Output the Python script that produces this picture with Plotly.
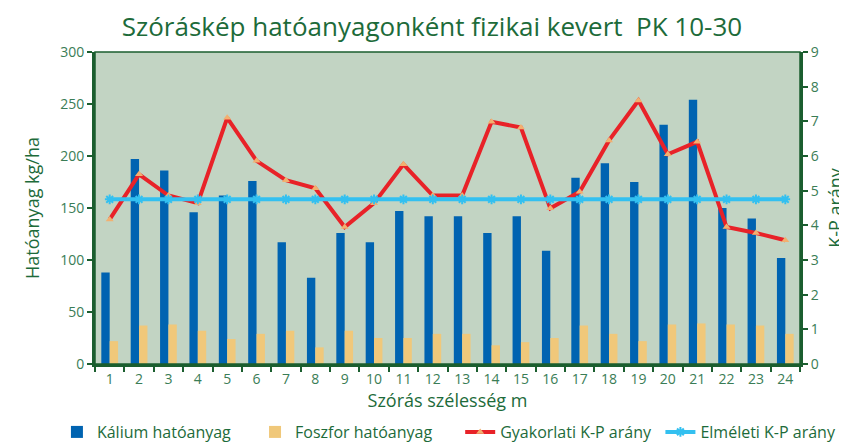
import plotly.graph_objects as go

categories = [str(i) for i in range(1, 25)]
kalium = [88, 197, 186, 146, 162, 176, 117, 83, 126, 117, 147, 142,
          142, 126, 142, 109, 179, 193, 175, 230, 254, 150, 140, 102]
foszfor = [22, 37, 38, 32, 24, 29, 32, 16, 32, 25, 25, 29,
           29, 18, 21, 25, 37, 29, 22, 38, 39, 38, 37, 29]
gyakorlati = [4.17, 5.47, 4.86, 4.64, 7.1, 5.86, 5.3, 5.07, 3.95, 4.64, 5.76, 4.86,
              4.86, 6.99, 6.82, 4.49, 4.97, 6.45, 7.6, 6.05, 6.41, 3.95, 3.78, 3.57]
elmeleti = [4.75] * 24

left_ticks = [0, 50, 100, 150, 200, 250, 300]
right_ticks = list(range(0, 10))

GREEN = "#1d6b3a"
TICK = "#3a7d56"
AXIS = "#1b5e2f"
FONT = "Open Sans"

fig = go.Figure()
fig.add_trace(go.Bar(x=categories, y=kalium, name="Kálium hatóanyag", legend="legend",
                     marker=dict(color="#0063b1", line=dict(width=0))))
fig.add_trace(go.Bar(x=categories, y=foszfor, name="Foszfor hatóanyag", legend="legend2",
                     marker=dict(color="#f0c87a", line=dict(width=0))))
fig.add_trace(go.Scatter(x=categories, y=gyakorlati, name="Gyakorlati K-P arány", yaxis="y2",
                         legend="legend3", mode="lines+markers",
                         line=dict(color="#e82228", width=4),
                         marker=dict(symbol="triangle-up", size=7, color="#f2b070",
                                     line=dict(width=0))))
fig.add_trace(go.Scatter(x=categories, y=elmeleti, name="Elméleti K-P arány", yaxis="y2",
                         legend="legend4", mode="lines+markers",
                         line=dict(color="#33c0f0", width=4),
                         marker=dict(symbol="asterisk", size=8, color="#33c0f0",
                                     line=dict(width=2, color="#33c0f0"))))

def leg(x):
    return dict(orientation="h", x=x, xanchor="left", y=-0.218, yanchor="middle",
                font=dict(family=FONT, size=16, color=GREEN),
                bgcolor="rgba(0,0,0,0)", itemwidth=30)

fig.update_layout(
    width=839, height=435,
    margin=dict(l=87, r=47, t=44, b=79, autoexpand=False),
    paper_bgcolor="white",
    plot_bgcolor="#c2d4c3",
    font=dict(family=FONT, color=TICK, size=13),
    title=dict(text="Szóráskép hatóanyagonként fizikai kevert  PK 10-30",
               font=dict(family=FONT, size=26, color=GREEN),
               xref="paper", x=0.478, xanchor="center", y=0.956, yanchor="middle"),
    barmode="group",
    bargap=0.43,
    bargroupgap=0.0,
    showlegend=True,
    legend=leg(-0.054),
    legend2=leg(0.227),
    legend3=leg(0.518),
    legend4=leg(0.802),
    xaxis=dict(type="category", tickson="boundaries", ticks="outside", ticklen=5,
               range=[-0.5, 23.5], automargin=False,
               tickcolor=AXIS, tickwidth=1.5,
               showline=True, linecolor=AXIS, linewidth=3, showgrid=False,
               tickfont=dict(size=14, color=TICK),
               title=dict(text="Szórás szélesség m", font=dict(size=18, color=GREEN), standoff=4)),
    yaxis=dict(range=[0, 300], tickvals=left_ticks, ticks="outside", ticklen=5,
               automargin=False,
               tickcolor=AXIS, tickwidth=1.5,
               showline=True, linecolor=AXIS, linewidth=3, showgrid=False, zeroline=False,
               tickfont=dict(size=14, color=TICK),
               title=dict(text="Hatóanyag kg/ha", font=dict(size=18, color=GREEN), standoff=16)),
    yaxis2=dict(range=[0, 9], tickvals=right_ticks, overlaying="y", side="right",
                automargin=False,
                ticks="outside", ticklen=5, tickcolor=AXIS, tickwidth=1.5,
                showline=True, linecolor=AXIS, linewidth=3, showgrid=False, zeroline=False,
                tickfont=dict(size=14, color=TICK),
                title=dict(text="K-P arány", font=dict(size=18, color=GREEN), standoff=14)),
    shapes=[dict(type="rect", xref="paper", yref="paper", x0=0, x1=1, y0=0, y1=1,
                 line=dict(color=AXIS, width=1.5), layer="above")],
)

fig.write_html("out.html")
